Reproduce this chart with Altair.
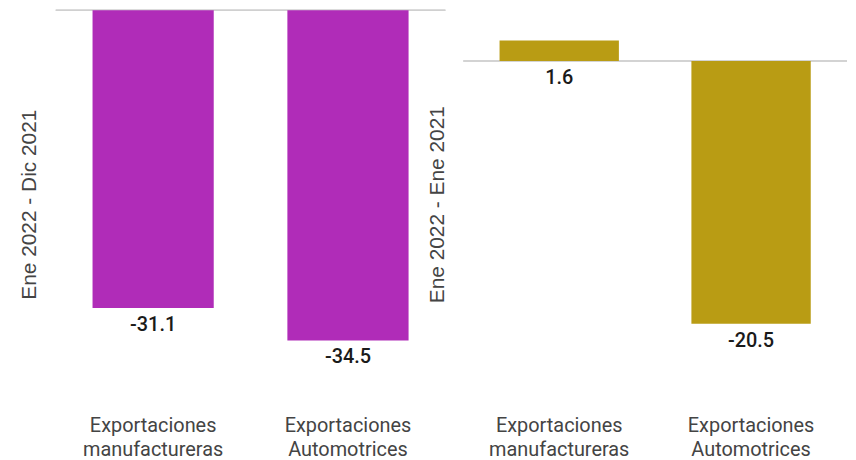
import altair as alt
import pandas as pd

categories = ["Exportaciones manufactureras", "Exportaciones Automotrices"]
dic_values = [-31.1, -34.5]
ene_values = [1.6, -20.5]
left_title = "Ene 2022 - Dic 2021"
right_title = "Ene 2022 - Ene 2021"

FONT = "Roboto"


def panel(values, title, color, domain, width):
    df = pd.DataFrame({"cat": categories, "val": values})
    x = alt.X(
        "cat:N",
        sort=categories,
        title=None,
        scale=alt.Scale(paddingInner=0.378, paddingOuter=0.189),
        axis=alt.Axis(
            labelAngle=0,
            labelExpr="split(datum.label, ' ')",
            labelFont=FONT,
            labelFontSize=20,
            labelColor="#444444",
            labelPadding=18,
            labelLineHeight=24,
            domain=False,
            ticks=False,
        ),
    )
    y_scale = alt.Scale(domain=domain, nice=False, zero=False)
    base = alt.Chart(df)
    bars = base.mark_bar(color=color).encode(
        x=x,
        y=alt.Y(
            "val:Q",
            scale=y_scale,
            axis=alt.Axis(
                title=title,
                labels=False,
                ticks=False,
                domain=False,
                grid=False,
                titleFont="Liberation Sans",
                titleFontSize=21,
                titleFontWeight="normal",
                titleColor="#444444",
                titlePadding=16,
            ),
        ),
        y2=alt.datum(0),
    )
    rule = base.mark_rule(color="#d0d0d0", strokeWidth=1.5).encode(
        y=alt.datum(0)
    )
    labels = (
        base.transform_calculate(
            ylab="min(datum.val, 0)", txt="toString(datum.val)"
        )
        .mark_text(
            baseline="top",
            dy=7,
            font=FONT,
            fontSize=20,
            fontWeight=500,
            color="#1a1a1a",
        )
        .encode(
            x=alt.X("cat:N", sort=categories),
            y=alt.Y("ylab:Q", scale=y_scale),
            text=alt.Text("txt:N"),
        )
    )
    return alt.layer(rule, bars, labels).properties(width=width, height=390)


left = panel(dic_values, left_title, "#B02CB8", [-40.5, 0], 392)
right = panel(ene_values, right_title, "#B99C14", [-26.3, 3.95], 386)

chart = (
    alt.hconcat(left, right, spacing=18, bounds="flush")
    .properties(padding={"left": 11, "top": 0, "right": 0, "bottom": 0})
    .configure_view(stroke=None)
)

chart.save("out.html", embed_options={"renderer": "svg", "actions": False})
